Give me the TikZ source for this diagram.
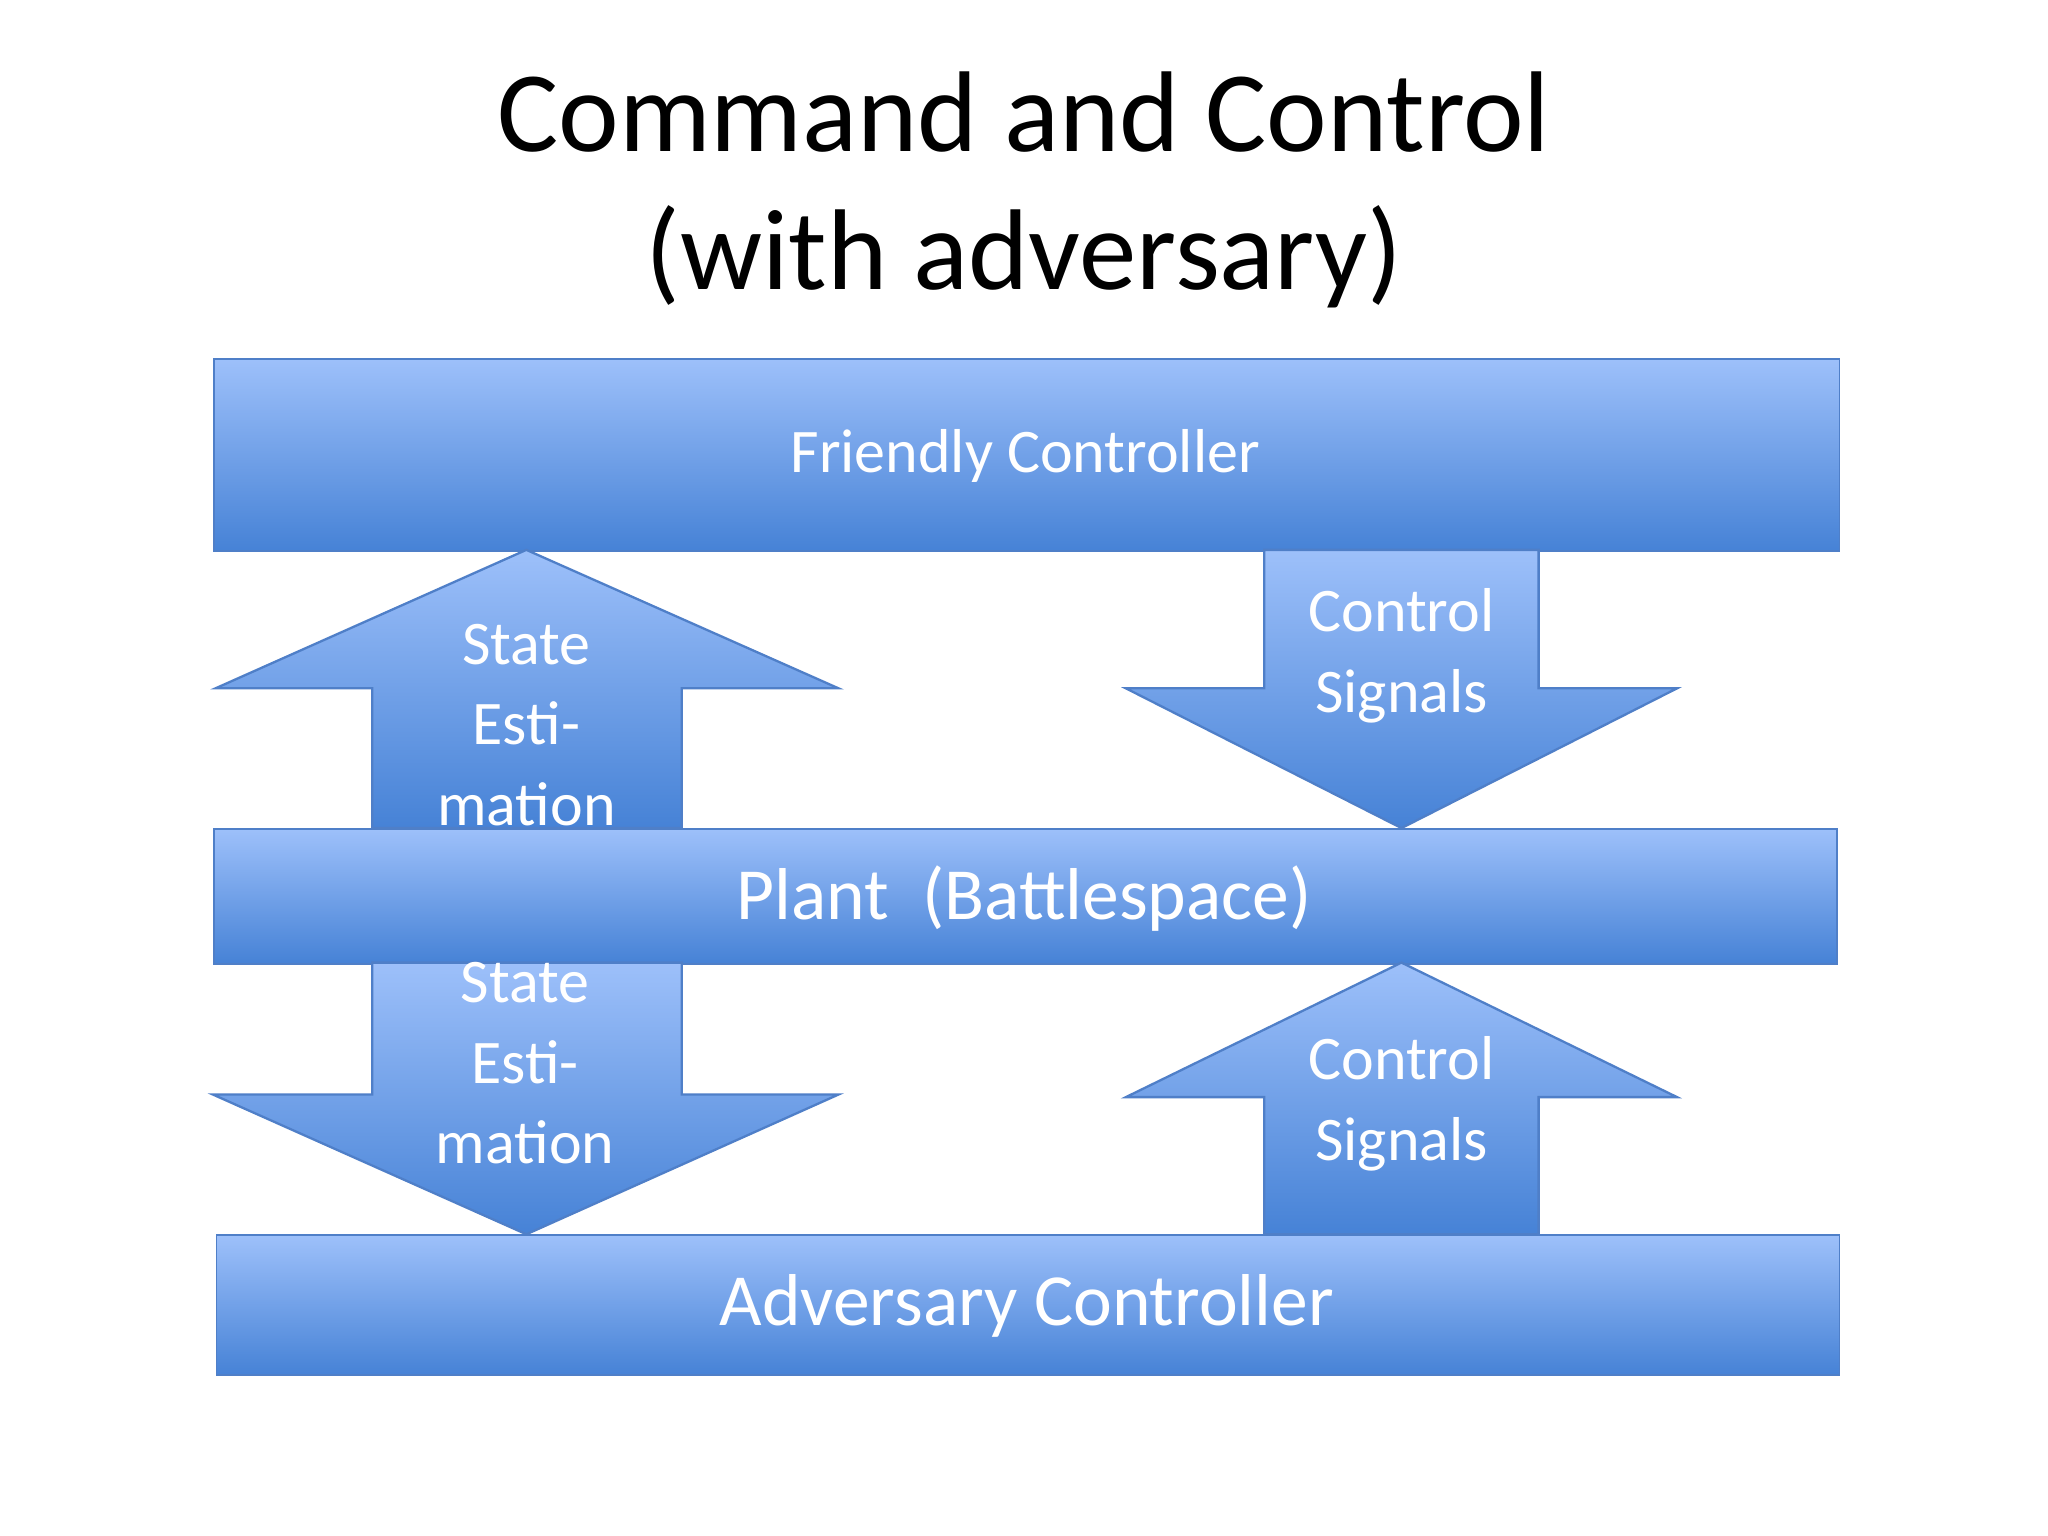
\documentclass[tikz,border=0pt]{standalone}
\usepackage{fontspec}
\setmainfont{Carlito}
\begin{document}
\begin{tikzpicture}[x=0.01cm,y=-0.01cm,
  box/.style={draw=blue1,top color=topc,bottom color=botc,minimum height=#1,inner sep=0pt,anchor=north west,text=white},
  arr/.style={draw=blue1,line width=0.5pt,top color=topc,bottom color=botc},
  atext/.style={text=white,font=\fontsize{13.5}{17.5}\selectfont,align=center}]
\definecolor{topc}{HTML}{9DC0FA}
\definecolor{botc}{HTML}{4682D6}
\definecolor{blue1}{HTML}{4F7FC8}
\fill[white] (0,0) rectangle (1568,1176);
\node (title) at (784,148) {\fontsize{25}{30}\selectfont\begin{tabular}{c}Command and Control\\(with adversary)\end{tabular}};
\node[box=4.16cm*0+1.47cm,minimum width=12.44cm] (fc) at (163,274) {};
\node[text=white,font=\fontsize{13.5}{16}\selectfont] (fct) at (785,349) {Friendly Controller};
\node[box=1.03cm,minimum width=12.42cm] (pl) at (163,634) {};
\node[text=white,font=\fontsize{16}{19}\selectfont] (plt) at (784,688) {Plant\ \ (Battlespace)};
\node[box=1.07cm,minimum width=12.42cm] (ac) at (165,945) {};
\node[text=white,font=\fontsize{16}{19}\selectfont] (act) at (786,1000) {Adversary Controller};
% arrows
\path[arr] (403,421) -- (642,527) -- (522,527) -- (522,634) -- (285,634) -- (285,527) -- (165,527) -- cycle;
\path[arr] (968,421) -- (1178,421) -- (1178,527) -- (1284,527) -- (1073,634) -- (862,527) -- (968,527) -- cycle;
\path[arr] (285,737) -- (522,737) -- (522,838) -- (642,838) -- (403,945) -- (163,838) -- (285,838) -- cycle;
\path[arr] (1073,737) -- (1284,840) -- (1178,840) -- (1178,945) -- (968,945) -- (968,840) -- (862,840) -- cycle;
\node[atext] (t1) at (403,555) {State\\Esti-\\mation};
\node[atext] (t2) at (1073,502) {Control\\Signals};
\node[atext] (t3) at (402,814) {State\\Esti-\\mation};
\node[atext] (t4) at (1073,845) {Control\\Signals};
\end{tikzpicture}
\end{document}
